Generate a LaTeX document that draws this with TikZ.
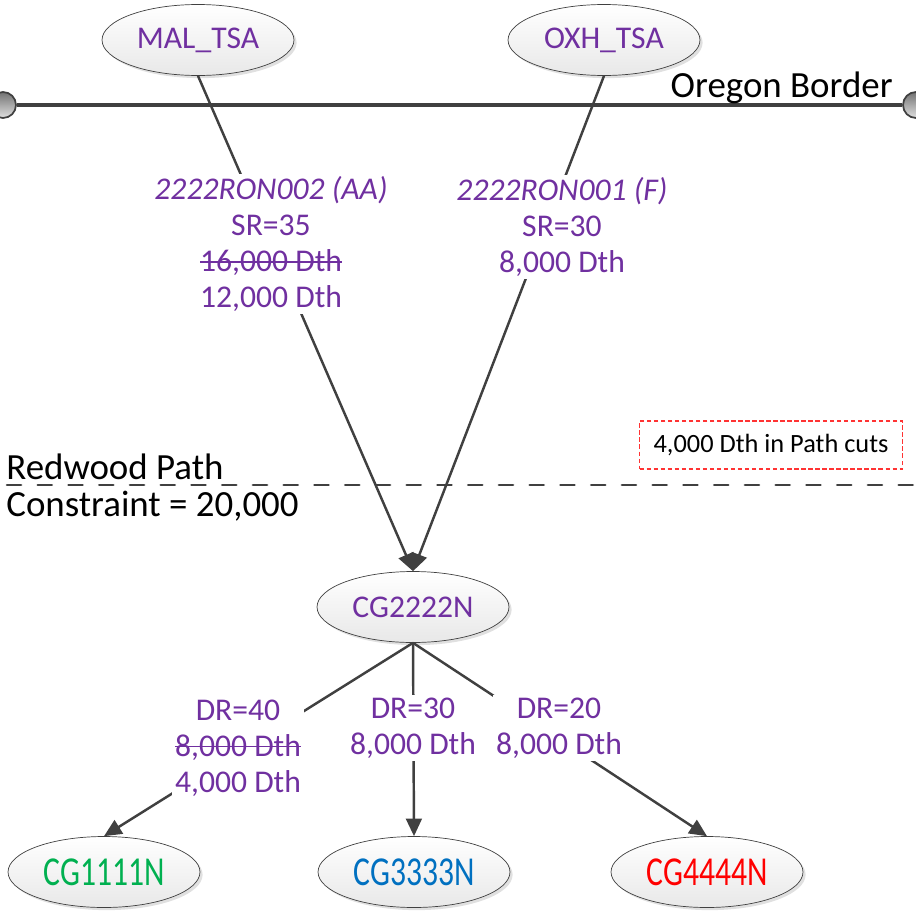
\documentclass[tikz,border=0pt]{standalone}
\usepackage{fontspec}
\setmainfont{Carlito}
\usetikzlibrary{arrows.meta,shapes.geometric,shadows}
\definecolor{lilla}{RGB}{112,48,160}
\definecolor{verde}{RGB}{0,176,80}
\definecolor{blu}{RGB}{0,112,192}
\definecolor{rosso}{RGB}{255,0,0}
\definecolor{grafite}{RGB}{64,64,64}
\newcommand{\barrato}[1]{\setbox0\hbox{#1}\rlap{\rule[0.28em]{\wd0}{0.9pt}}\box0}

\begin{document}
\begin{tikzpicture}[
    x=0.02cm, y=-0.02cm,
    font=\fontsize{18}{20.5}\selectfont,
    area/.style={ellipse,draw=black!75,thin,top color=white,bottom color=black!9,
      minimum width=3.84cm,minimum height=1.42cm,inner sep=0pt,
      drop shadow={shadow xshift=1.5pt,shadow yshift=-1.5pt,fill=black!30,opacity=0.4}},
    estremo/.style={circle,draw=grafite,line width=1pt,top color=black!55,
      bottom color=black!12,minimum size=0.52cm,inner sep=0pt},
    confine/.style={line width=1.8pt,grafite},
    sentiero/.style={line width=1.5pt,grafite,line cap=round,dash pattern=on 8pt off 9.5pt},
    flusso/.style={line width=1.4pt,grafite,-{Triangle[length=10pt,width=9pt]}},
    etich/.style={fill=white,text=lilla,align=center,inner sep=1.5pt},
    grande/.style={inner sep=0pt,font=\fontsize{21}{21}\selectfont},
    taglio/.style={draw=red!80,fill=white,dash pattern=on 2.5pt off 1.5pt,line width=0.7pt,
      minimum width=5.26cm,minimum height=0.96cm,font=\fontsize{15}{15}\selectfont}]

  \useasboundingbox (0,0) rectangle (916,913);

  % ---- confine dell'Oregon ----------------------------------------------------
  \node[estremo] (ovest) at (3,105)   {};
  \node[estremo] (est)   at (916,105) {};
  \draw[confine] (ovest) -- (est);
  \node[grande,anchor=base east] (oregon) at (893,97) {Oregon Border};

  % ---- vincolo del Redwood Path -----------------------------------------------
  \draw[sentiero] (7,485) -- (916,485);
  \node[grande,anchor=north west,align=left] (redwood) at (6,454)
    {Redwood Path\\Constraint = 20,000};
  \node[taglio] (tagli) at (771,445) {4,000 Dth in Path cuts};

  % ---- punti di ricezione e di consegna ---------------------------------------
  \node[area,text=lilla] (mal)    at (198,40)  {MAL\_TSA};
  \node[area,text=lilla] (oxh)    at (604,40)  {OXH\_TSA};
  \node[area,text=lilla] (cg2222) at (413,607) {CG2222N};
  \node[area,text=verde] (cg1111) at (104,872) {\scalebox{1}[1.3]{CG1111N}};
  \node[area,text=blu]   (cg3333) at (414,872) {\scalebox{1}[1.3]{CG3333N}};
  \node[area,text=rosso] (cg4444) at (707,872) {\scalebox{1}[1.3]{CG4444N}};

  % ---- flussi -----------------------------------------------------------------
  \draw[flusso] (mal.south)    -- (cg2222.north);
  \draw[flusso] (oxh.south)    -- (cg2222.north);
  \draw[flusso] (cg2222.south) -- (cg1111.north);
  \draw[flusso] (cg2222.south) -- (cg3333.north);
  \draw[flusso] (cg2222.south) -- (cg4444.north);

  % ---- etichette dei flussi ---------------------------------------------------
  \node[etich] (sr35) at (271,244)
    {{\itshape 2222RON002 (AA)}\\SR=35\\\barrato{16,000 Dth}\\12,000 Dth};
  \node[etich] (sr30) at (562,227)
    {{\itshape 2222RON001 (F)}\\SR=30\\8,000 Dth};
  \node[etich] (dr40) at (238,748) {DR=40\\\barrato{8,000 Dth}\\4,000 Dth};
  \node[etich] (dr30) at (413,728) {DR=30\\8,000 Dth};
  \node[etich] (dr20) at (559,728) {DR=20\\8,000 Dth};

\end{tikzpicture}
\end{document}
